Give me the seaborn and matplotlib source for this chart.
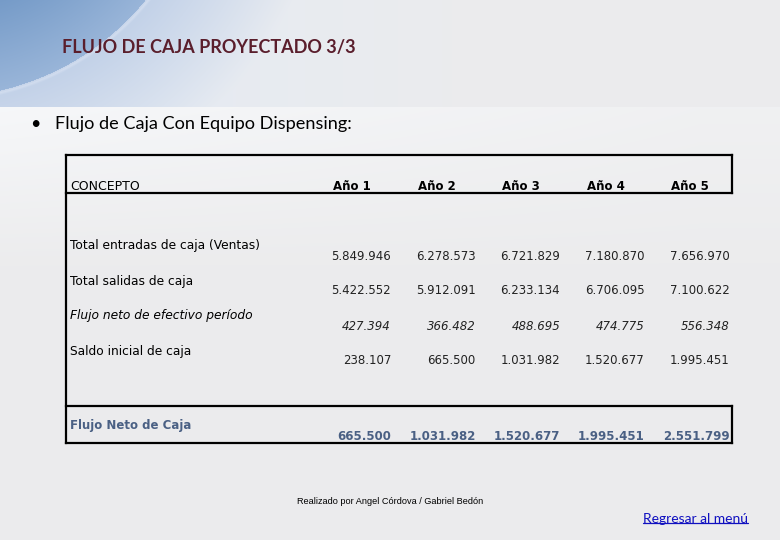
import numpy as np
import pandas as pd
import matplotlib
matplotlib.use("Agg")
import matplotlib.pyplot as plt
import seaborn as sns

# ---------------- data ----------------
title = "FLUJO DE CAJA PROYECTADO 3/3"
subtitle = "Flujo de Caja Con Equipo Dispensing:"
concept_header = "CONCEPTO"
years = ["Año 1", "Año 2", "Año 3", "Año 4", "Año 5"]
row_labels = ["Total entradas de caja (Ventas)", "Total salidas de caja",
              "Flujo neto de efectivo período", "Saldo inicial de caja"]
entradas = [5849946, 6278573, 6721829, 7180870, 7656970]
salidas = [5422552, 5912091, 6233134, 6706095, 7100622]
flujo_neto_periodo = [427394, 366482, 488695, 474775, 556348]
saldo_inicial = [238107, 665500, 1031982, 1520677, 1995451]
total_label = "Flujo Neto de Caja"
flujo_neto_caja = [665500, 1031982, 1520677, 1995451, 2551799]
footer = "Realizado por Angel Córdova / Gabriel Bedón"
link = "Regresar al menú"

df = pd.DataFrame([entradas, salidas, flujo_neto_periodo, saldo_inicial],
                  index=row_labels, columns=years)

def fmt(v):
    return f"{v:,}".replace(",", ".")

# ---------------- figure ----------------
sns.set_theme(style="white")
plt.rcParams["font.family"] = ["DejaVu Sans"]
W, H = 780, 540
fig = plt.figure(figsize=(W / 100, H / 100), dpi=100)
ax = fig.add_axes([0, 0, 1, 1])
ax.set_xlim(0, W)
ax.set_ylim(H, 0)
ax.axis("off")

# background
yy, xx = np.mgrid[0:H, 0:W].astype(float)
base = np.array([0.925, 0.925, 0.93])
img = np.ones((H, W, 3)) * base
t = np.clip((yy - 107) / 160.0, 0, 1)
tx = np.clip(xx / 700.0, 0, 1)
light = np.array([0.965, 0.97, 0.978])
mix = ((1 - t) * (1 - 0.6 * tx))[..., None]
img = img * (1 - mix) + light * mix
# header band with swoosh
hdr = yy < 107
d = np.sqrt((xx + 60) ** 2 + (yy + 168) ** 2)
head_right = np.array([0.925, 0.925, 0.93])
head_left = np.array([0.90, 0.92, 0.95])
hx = np.clip((xx - 150) / 350.0, 0, 1)[..., None]
hb = head_left * (1 - hx) + head_right * hx
dark_in = np.array([0.45, 0.60, 0.78])
dark_edge = np.array([0.60, 0.71, 0.85])
mid = np.array([0.76, 0.82, 0.91])
inside = d < 265
gd = np.clip((d - 170) / 95.0, 0, 1)[..., None]
dark_col = dark_in * (1 - gd) + dark_edge * gd
wmid = np.clip((390 - d) / 125.0, 0, 1)[..., None]
out_col = hb * (1 - wmid) + mid * wmid
hcol = np.where(inside[..., None], dark_col, out_col)
# thin light rim on the arc
rim = np.clip(1 - np.abs(d - 267) / 2.5, 0, 1)[..., None]
hcol = hcol * (1 - 0.5 * rim) + np.array([0.88, 0.91, 0.96]) * 0.5 * rim
img[hdr] = hcol[hdr]
ax.imshow(img, extent=[0, W, H, 0], aspect="auto", zorder=0)

# titles
ax.text(62, 47, title, fontsize=13.0, color="#5a1e2c", family=["Lato", "DejaVu Sans"],
        fontweight="bold", va="center", ha="left")
ax.text(30, 124, "•", fontsize=13, color="black", va="center", ha="left",
        family=["Lato", "DejaVu Sans"])
ax.text(55, 124, subtitle, fontsize=13.1, color="black", va="center", ha="left",
        family=["Lato", "DejaVu Sans"])

# table frame
lw = 1.6
L, R = 66, 732
T, HB, BT, BB = 155, 193, 406, 443
frame = [((L, L), (T, BB)), ((L, R), (T, T)), ((R, R), (T, HB)), ((L, R), (HB, HB)),
         ((L, R), (BT, BT)), ((R, R), (BT, BB)), ((L, R), (BB, BB))]
for xs, ys in frame:
    ax.plot(xs, ys, color="black", lw=lw, solid_capstyle="projecting", zorder=2)

fs = 8.5
col_center0, col_step = 352, 84.6
col_right0 = 391
ax.text(70, 186, concept_header, fontsize=9, color="black", va="center", ha="left")
for i, y in enumerate(years):
    ax.text(col_center0 + i * col_step, 186, y, fontsize=fs, fontweight="bold",
            color="black", va="center", ha="center")

label_y0, row_step = 246, 35
value_offset = 10
for r, lab in enumerate(df.index):
    style = "italic" if r == 2 else "normal"
    ly = label_y0 + r * row_step
    ax.text(70, ly, lab, fontsize=8.8, style=style, color="black", va="center", ha="left")
    for c, col in enumerate(df.columns):
        ax.text(col_right0 + c * col_step, ly + value_offset, fmt(df.loc[lab, col]),
                fontsize=fs, style=style, color="#222222", va="center", ha="right")

blue_grey = "#4a6084"
ax.text(70, 425, total_label, fontsize=fs, fontweight="bold", color=blue_grey,
        va="center", ha="left")
for c, v in enumerate(flujo_neto_caja):
    ax.text(col_right0 + c * col_step, 437, fmt(v), fontsize=fs, fontweight="bold",
            color=blue_grey, va="center", ha="right")

# footer
ax.text(297, 501, footer, fontsize=6.6, color="black", va="center", ha="left",
        family=["Liberation Sans Narrow", "Liberation Sans", "DejaVu Sans"])
lt = ax.text(748, 519, link, fontsize=10, color="#1010c0", va="center", ha="right",
             family=["Lato", "DejaVu Sans"])
fig.canvas.draw()
bb = lt.get_window_extent()
inv = ax.transData.inverted()
(x0, y0), (x1, y1) = inv.transform([[bb.x0, bb.y0], [bb.x1, bb.y1]])
uy = max(y0, y1) - 2
ax.plot([x0, x1], [uy, uy], color="#1010c0", lw=0.9, zorder=3)

fig.savefig("out.png", dpi=100)
